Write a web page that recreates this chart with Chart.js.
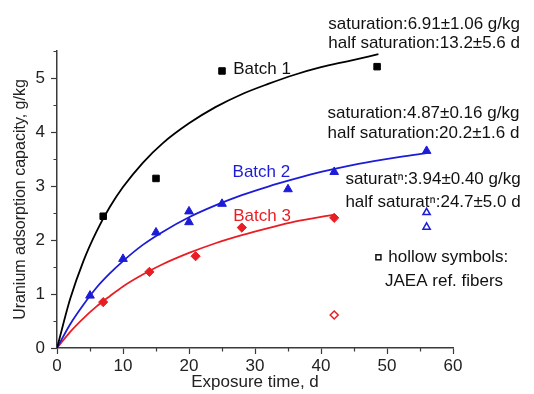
<!DOCTYPE html>
<html lang="en">
<head>
    <meta charset="UTF-8">
    <title>Uranium adsorption capacity vs exposure time</title>
    <script src="https://cdn.jsdelivr.net/npm/chart.js"></script>
    <style>
        body { margin: 0; background: #fff; }
        #wrap { width: 534px; height: 394px; position: relative; }
    </style>
</head>
<body>
    <div id="wrap"><canvas id="grafico"></canvas></div>

    <script>
        // measured points
        var batch1Days = [7, 15, 25, 48.5];
        var batch1Values = [2.44, 3.14, 5.13, 5.21];
        var batch2Days = [5, 10, 15, 20, 20, 25, 35, 42, 56];
        var batch2Values = [0.97, 1.65, 2.14, 2.53, 2.33, 2.67, 2.94, 3.26, 3.65];
        var batch3Days = [7, 14, 21, 28, 42];
        var batch3Values = [0.85, 1.41, 1.70, 2.23, 2.41];

        // JAEA reference fibers (hollow symbols)
        var refBlueDays = [56, 56];
        var refBlueValues = [2.51, 2.24];
        var refRedDays = [42];
        var refRedValues = [0.61];

        // fitted curves
        var fit1Days = [0, 2, 4, 6, 8, 10, 13, 16, 20, 24, 28, 32, 36, 40, 44, 48.7];
        var fit1Values = [0, 0.91, 1.61, 2.16, 2.61, 2.98, 3.43, 3.79, 4.16, 4.46, 4.70, 4.89, 5.06, 5.20, 5.31, 5.44];
        var fit2Days = [0, 2, 4, 6, 8, 10, 13, 16, 20, 24, 28, 32, 36, 40, 44, 48, 52, 56];
        var fit2Values = [0, 0.44, 0.80, 1.12, 1.38, 1.61, 1.91, 2.15, 2.42, 2.64, 2.83, 2.99, 3.13, 3.26, 3.37, 3.46, 3.54, 3.61];
        var fit3Days = [0, 2, 4, 6, 8, 10, 13, 16, 20, 24, 28, 32, 36, 42];
        var fit3Values = [0, 0.30, 0.55, 0.77, 0.96, 1.14, 1.36, 1.55, 1.76, 1.94, 2.09, 2.22, 2.34, 2.47];

        // axes
        var xTicks = [0, 10, 20, 30, 40, 50, 60];
        var xMinorTicks = [5, 15, 25, 35, 45, 55];
        var yTicks = [0, 1, 2, 3, 4, 5];
        var yMinorTicks = [0.5, 1.5, 2.5, 3.5, 4.5, 5.5];

        var negro = '#000000';
        var azul = '#1c1cd8';
        var rojo = '#e81e24';
        var gris = '#3a3a3a';
        var fuente = 'Arial, "Liberation Sans", sans-serif';

        // text labels: [text, x (days), y (g/kg), color]
        var etiquetas = [
            ['Batch 1', 26.7, 5.17, '#111'],
            ['saturation:6.91\u00b11.06 g/kg', 41.1, 6.00, '#111'],
            ['half saturation:13.2\u00b15.6 d', 41.1, 5.65, '#111'],
            ['Batch 2', 26.6, 3.26, azul],
            ['saturation:4.87\u00b10.16 g/kg', 41.0, 4.35, '#111'],
            ['half saturation:20.2\u00b11.6 d', 41.0, 3.98, '#111'],
            ['Batch 3', 26.7, 2.43, rojo],
            ['saturat\u207f:3.94\u00b10.40 g/kg', 43.7, 3.12, '#111'],
            ['half saturat\u207f:24.7\u00b15.0 d', 43.7, 2.69, '#111'],
            ['hollow symbols:', 50.2, 1.68, '#111'],
            ['JAEA ref. fibers', 49.7, 1.23, '#111']
        ];
        var claveHueca = [48.7, 1.68];

        function pares(xs, ys) {
            return xs.map(function (x, i) { return { x: x, y: ys[i] }; });
        }

        function curva(xs, ys, color) {
            return {
                data: pares(xs, ys),
                showLine: true,
                borderColor: color,
                borderWidth: 1.8,
                pointRadius: 0,
                cubicInterpolationMode: 'monotone',
                fill: false
            };
        }

        function puntos(xs, ys, color, estilo, radio, hueco) {
            return {
                data: pares(xs, ys),
                showLine: false,
                pointStyle: estilo,
                pointRadius: radio,
                pointBackgroundColor: hueco ? '#ffffff' : color,
                pointBorderColor: color,
                pointBorderWidth: hueco ? 1.5 : 1
            };
        }

        var extras = {
            id: 'extras',
            afterDraw: function (chart) {
                var ctx = chart.ctx;
                var sx = chart.scales.x, sy = chart.scales.y;
                ctx.save();
                // minor ticks
                ctx.strokeStyle = gris;
                ctx.lineWidth = 1.2;
                ctx.beginPath();
                xMinorTicks.forEach(function (v) {
                    var px = Math.round(sx.getPixelForValue(v)) + 0.5;
                    ctx.moveTo(px, sy.bottom);
                    ctx.lineTo(px, sy.bottom + 3.5);
                });
                yMinorTicks.forEach(function (v) {
                    var py = Math.round(sy.getPixelForValue(v)) + 0.5;
                    ctx.moveTo(sx.left, py);
                    ctx.lineTo(sx.left - 3.5, py);
                });
                ctx.stroke();

                // annotations
                ctx.font = '17px ' + fuente;
                ctx.textAlign = 'left';
                ctx.textBaseline = 'middle';
                etiquetas.forEach(function (e) {
                    ctx.fillStyle = e[3];
                    ctx.fillText(e[0], sx.getPixelForValue(e[1]), sy.getPixelForValue(e[2]));
                });

                // hollow key symbol
                var kx = sx.getPixelForValue(claveHueca[0]);
                var ky = sy.getPixelForValue(claveHueca[1]);
                ctx.strokeStyle = '#111';
                ctx.lineWidth = 1.5;
                ctx.strokeRect(kx - 2.5, ky - 2.5, 5, 5);
                ctx.restore();
            }
        };

        var ctx = document.getElementById('grafico').getContext('2d');
        var myChart = new Chart(ctx, {
            type: 'scatter',
            data: {
                datasets: [
                    curva(fit1Days, fit1Values, negro),
                    curva(fit2Days, fit2Values, azul),
                    curva(fit3Days, fit3Values, rojo),
                    puntos(batch1Days, batch1Values, negro, 'rect', 4.6, false),
                    puntos(batch2Days, batch2Values, azul, 'triangle', 5, false),
                    puntos(batch3Days, batch3Values, rojo, 'rectRot', 4.6, false),
                    puntos(refBlueDays, refBlueValues, azul, 'triangle', 4.2, true),
                    puntos(refRedDays, refRedValues, rojo, 'rectRot', 4, true)
                ]
            },
            options: {
                responsive: true,
                maintainAspectRatio: false,
                animation: false,
                layout: { padding: { top: 51, right: 81, left: 0, bottom: 0 } },
                plugins: {
                    legend: { display: false },
                    tooltip: { enabled: false }
                },
                scales: {
                    x: {
                        type: 'linear',
                        min: 0,
                        max: 60,
                        afterBuildTicks: function (s) { s.ticks = xTicks.map(function (v) { return { value: v }; }); },
                        afterFit: function (s) { s.height = 46; },
                        grid: { drawOnChartArea: false, drawTicks: true, tickLength: 6, color: gris, tickWidth: 1.2 },
                        border: { display: true, color: gris, width: 1.5 },
                        ticks: { color: '#222', padding: 2, font: { family: fuente, size: 17 }, maxRotation: 0 },
                        title: {
                            display: true,
                            text: 'Exposure time, d',
                            color: '#222',
                            font: { family: fuente, size: 17 },
                            padding: { top: 0, bottom: 1 }
                        }
                    },
                    y: {
                        type: 'linear',
                        min: 0,
                        max: 5.5,
                        afterBuildTicks: function (s) { s.ticks = yTicks.map(function (v) { return { value: v }; }); },
                        afterFit: function (s) { s.width = 57; },
                        grid: { drawOnChartArea: false, drawTicks: true, tickLength: 6, color: gris, tickWidth: 1.2 },
                        border: { display: true, color: gris, width: 1.5 },
                        ticks: { color: '#222', padding: 6, font: { family: fuente, size: 17 } },
                        title: {
                            display: true,
                            text: 'Uranium adsorption capacity, g/kg',
                            color: '#222',
                            font: { family: fuente, size: 16 },
                            padding: { top: 11, bottom: 0 }
                        }
                    }
                }
            },
            plugins: [extras]
        });
    </script>
</body>
</html>
